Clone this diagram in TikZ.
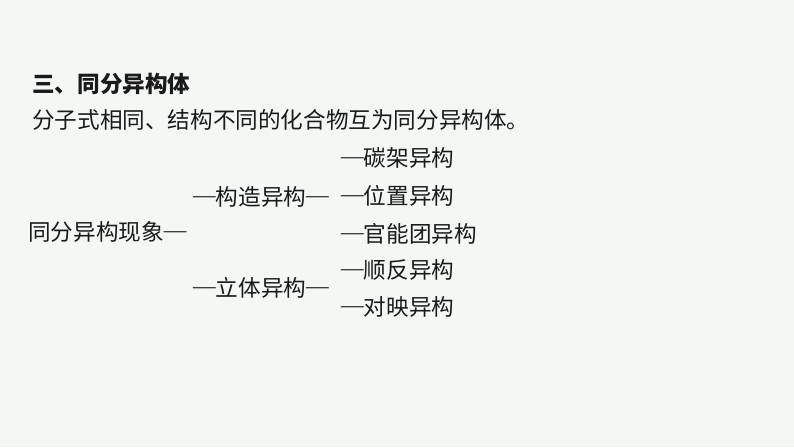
\documentclass[tikz,border=0pt]{standalone}
\usepackage{fontspec}
\newfontfamily\cjk{Noto Sans CJK SC}
\newfontfamily\dashfont{Liberation Serif}
\newcommand{\dd}{\raisebox{0.12em}{\dashfont —}}
\definecolor{bgc}{HTML}{F4F8F5}
\definecolor{txt}{HTML}{1A1A1A}
\begin{document}
\begin{tikzpicture}[x=1pt,y=1pt,
  lbl/.style={anchor=west,inner sep=0pt,font=\cjk\fontsize{22.6}{26}\selectfont,text=txt},
  ttl/.style={lbl,font=\cjk\bfseries\fontsize{22.6}{26}\selectfont}]
\fill[bgc] (0,0) rectangle (794,447);
\useasboundingbox (0,0) rectangle (794,447);
\node[ttl] (title) at (32,447-84) {三、同分异构体};
\node[lbl] (def) at (32,447-120) {分子式相同、结构不同的化合物互为同分异构体。};
\node[lbl] (root) at (28,447-232) {同分异构现象\dd};
\node[lbl] (gz) at (193,447-197) {\dd 构造异构\dd};
\node[lbl] (lt) at (193,447-288) {\dd 立体异构\dd};
\node[lbl] (a1) at (341,447-158) {\dd 碳架异构};
\node[lbl] (a2) at (341,447-196) {\dd 位置异构};
\node[lbl] (a3) at (341,447-234) {\dd 官能团异构};
\node[lbl] (a4) at (341,447-270) {\dd 顺反异构};
\node[lbl] (a5) at (341,447-307) {\dd 对映异构};
\end{tikzpicture}
\end{document}
